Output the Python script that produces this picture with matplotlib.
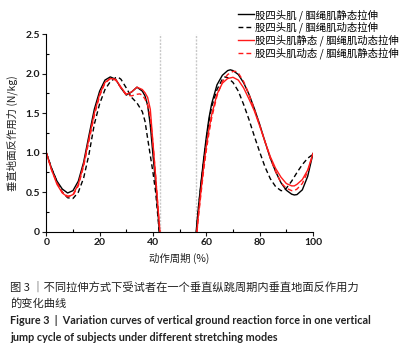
import matplotlib
matplotlib.use("Agg")
import matplotlib.pyplot as plt
from matplotlib.ticker import MultipleLocator, FixedLocator

CJK = ['Noto Sans CJK SC', 'DejaVu Sans']
plt.rcParams['font.family'] = CJK

# ---- data ----
labels = ["股四头肌 / 腘绳肌静态拉伸",
          "股四头肌 / 腘绳肌动态拉伸",
          "股四头肌静态 / 腘绳肌动态拉伸",
          "股四头肌动态 / 腘绳肌静态拉伸"]

# Series 1: black solid
s1_left_x = [0, 2, 4, 6, 8, 10, 12, 14, 16, 18, 20, 22, 24, 26, 28, 30, 32, 34, 36, 37, 38, 39, 40, 41, 42, 42.4]
s1_left_y = [1.00, 0.80, 0.64, 0.54, 0.49, 0.52, 0.64, 0.88, 1.22, 1.55, 1.78, 1.92, 1.96, 1.93, 1.82, 1.73, 1.77, 1.83, 1.78, 1.72, 1.60, 1.35, 0.97, 0.62, 0.18, 0.0]
s1_right_x = [56.2, 57, 58, 59, 60, 61, 62, 64, 66, 68, 69, 70, 72, 74, 76, 78, 80, 82, 84, 86, 88, 90, 92, 93, 94, 96, 98, 100]
s1_right_y = [0.0, 0.30, 0.62, 0.92, 1.20, 1.44, 1.62, 1.86, 1.98, 2.04, 2.05, 2.04, 1.99, 1.885, 1.74, 1.56, 1.36, 1.14, 0.93, 0.76, 0.62, 0.525, 0.475, 0.465, 0.47, 0.53, 0.70, 0.99]

# Series 2: black dashed
s2_left_x = [0, 2, 4, 6, 8, 10, 12, 14, 16, 18, 20, 22, 24, 26, 27, 28, 30, 32, 34, 36, 37, 38, 40, 41, 42, 42.3]
s2_left_y = [1.00, 0.80, 0.63, 0.50, 0.43, 0.42, 0.50, 0.68, 0.98, 1.36, 1.62, 1.80, 1.90, 1.95, 1.955, 1.93, 1.82, 1.70, 1.63, 1.52, 1.40, 1.18, 0.75, 0.50, 0.13, 0.0]
s2_right_x = [56.3, 57, 58, 59, 60, 61, 62, 64, 66, 67, 68, 70, 72, 74, 76, 78, 80, 82, 84, 86, 88, 89, 90, 92, 94, 96, 98, 100]
s2_right_y = [0.0, 0.28, 0.60, 0.90, 1.17, 1.40, 1.58, 1.80, 1.93, 1.96, 1.95, 1.89, 1.78, 1.61, 1.42, 1.21, 1.01, 0.82, 0.67, 0.57, 0.52, 0.52, 0.55, 0.64, 0.75, 0.85, 0.93, 0.98]

# Series 3: red solid
s3_left_x = [0, 2, 4, 6, 8, 10, 12, 14, 16, 18, 20, 22, 24, 26, 28, 30, 32, 34, 36, 37, 38, 39, 40, 41, 42, 42.6]
s3_left_y = [1.00, 0.78, 0.60, 0.49, 0.44, 0.47, 0.60, 0.85, 1.18, 1.50, 1.74, 1.89, 1.94, 1.93, 1.83, 1.74, 1.77, 1.83, 1.80, 1.76, 1.70, 1.55, 1.12, 0.70, 0.25, 0.0]
s3_right_x = [56.5, 57, 58, 59, 60, 61, 62, 64, 66, 68, 70, 72, 74, 76, 78, 80, 82, 84, 86, 88, 90, 92, 93, 94, 96, 98, 100]
s3_right_y = [0.0, 0.20, 0.52, 0.82, 1.08, 1.30, 1.48, 1.74, 1.88, 1.94, 1.955, 1.92, 1.82, 1.68, 1.53, 1.34, 1.14, 0.95, 0.80, 0.69, 0.61, 0.58, 0.58, 0.60, 0.66, 0.78, 0.99]

# Series 4: red dashed
s4_left_x = [0, 2, 4, 6, 8, 10, 12, 14, 16, 18, 20, 22, 24, 26, 28, 30, 32, 34, 35, 36, 37, 38, 39, 40, 41, 42, 42.6]
s4_left_y = [1.00, 0.78, 0.62, 0.50, 0.45, 0.46, 0.58, 0.83, 1.15, 1.47, 1.72, 1.88, 1.94, 1.92, 1.82, 1.73, 1.72, 1.74, 1.745, 1.73, 1.68, 1.60, 1.45, 1.12, 0.70, 0.25, 0.0]
s4_right_x = [56.5, 57, 58, 59, 60, 61, 62, 64, 66, 68, 70, 71, 72, 74, 76, 78, 80, 82, 84, 86, 88, 90, 92, 93, 94, 96, 98, 100]
s4_right_y = [0.0, 0.18, 0.48, 0.78, 1.03, 1.25, 1.44, 1.72, 1.90, 1.99, 2.03, 2.03, 2.01, 1.90, 1.74, 1.55, 1.35, 1.14, 0.93, 0.76, 0.62, 0.55, 0.52, 0.52, 0.54, 0.61, 0.76, 0.99]

flight_bounds = [42.7, 56.0]

xticks = [0, 20, 40, 60, 80, 100]
yticks = [0, 0.5, 1.0, 1.5, 2.0, 2.5]
ytick_labels = ["0", "0.5", "1.0", "1.5", "2.0", "2.5"]

# ---- figure ----
fig = plt.figure(figsize=(4.16, 3.57), dpi=100)
ax = fig.add_axes([0.1113, 0.351, 0.6411, 0.553])

styles = [dict(color='black', ls='-'),
          dict(color='black', ls=(0, (3.5, 2.2))),
          dict(color='#ff1a1a', ls='-'),
          dict(color='#ff1a1a', ls=(0, (3.5, 2.2)))]
series = [(s1_left_x, s1_left_y, s1_right_x, s1_right_y),
          (s2_left_x, s2_left_y, s2_right_x, s2_right_y),
          (s3_left_x, s3_left_y, s3_right_x, s3_right_y),
          (s4_left_x, s4_left_y, s4_right_x, s4_right_y)]
handles = []
for (lx, ly, rx, ry), st, lab in zip(series, styles, labels):
    h, = ax.plot(lx, ly, lw=1.0, label=lab, **st)
    ax.plot(rx, ry, lw=1.0, **st)
    handles.append(h)

for xb in flight_bounds:
    ax.axvline(xb, color='#c8c8c8', lw=1.0, ls=(0, (1.5, 1.0)), zorder=0)

ax.set_xlim(0, 100)
ax.set_ylim(0, 2.5)
ax.spines['top'].set_visible(False)
ax.spines['right'].set_visible(False)
for sp in ax.spines.values():
    sp.set_linewidth(0.8)
ax.xaxis.set_major_locator(FixedLocator(xticks))
ax.xaxis.set_minor_locator(MultipleLocator(10))
ax.yaxis.set_major_locator(FixedLocator(yticks))
ax.yaxis.set_minor_locator(MultipleLocator(0.25))
ax.set_yticklabels(ytick_labels)
ax.tick_params(which='major', direction='out', length=3, width=0.8, pad=1.5,
               labelsize=7.5, colors='#1a1a1a')
ax.tick_params(which='minor', direction='in', length=2.5, width=0.8)
for t in ax.get_xticklabels() + ax.get_yticklabels():
    t.set_fontfamily(['Lato', 'DejaVu Sans'])
    t.set_fontweight('bold')

ax.set_xlabel("动作周期 (%)", fontsize=7.5, labelpad=4, color='#222222')
ax.set_ylabel("垂直地面反作用力 (N/kg)", fontsize=7.5, labelpad=5, color='#222222')

fig.legend(handles=handles, labels=labels, loc='upper left',
           bbox_to_anchor=(0.572, 0.975), frameon=False, fontsize=7.5,
           handlelength=1.5, handletextpad=0.1, labelspacing=0.12,
           borderaxespad=0, borderpad=0)

fig.text(0.024, 0.195, "图 3 ｜不同拉伸方式下受试者在一个垂直纵跳周期内垂直地面反作用力",
         fontsize=8.1, color='#222222', va='center', ha='left')
fig.text(0.024, 0.150, "的变化曲线", fontsize=8.1, color='#222222', va='center', ha='left')
fig.text(0.024, 0.101, "Figure 3  |  Variation curves of vertical ground reaction force in one vertical",
         fontsize=7.75, fontweight='bold', family=['Lato', 'DejaVu Sans'], color='#222222',
         va='center', ha='left')
fig.text(0.024, 0.056, "jump cycle of subjects under different stretching modes",
         fontsize=7.75, fontweight='bold', family=['Lato', 'DejaVu Sans'], color='#222222',
         va='center', ha='left')

fig.savefig("out.png", dpi=100)
